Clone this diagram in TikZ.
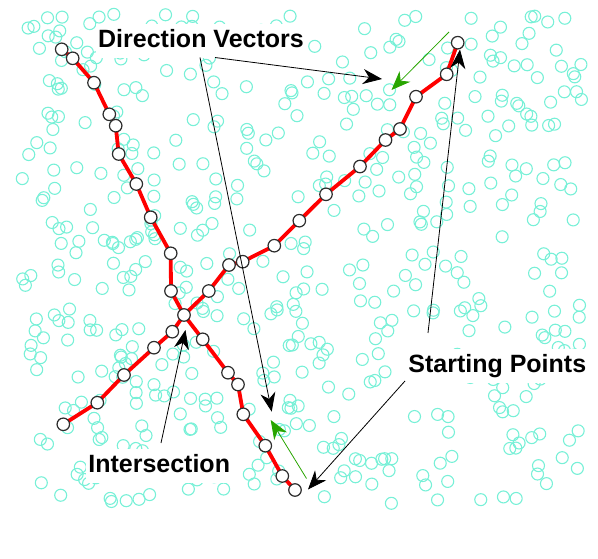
\documentclass[tikz,border=0pt]{standalone}
\usepackage{fontspec}
\setmainfont{Liberation Sans}
\usetikzlibrary{arrows.meta}
\definecolor{cyanc}{RGB}{120,240,215}
\definecolor{arrgreen}{RGB}{40,165,0}
\definecolor{dotedge}{RGB}{45,45,45}
\begin{document}
\begin{tikzpicture}[x=1pt,y=-1pt,
  dot/.style={circle,draw=dotedge,line width=1.2pt,fill=white,minimum size=12.5pt,inner sep=0pt},
  redpath/.style={draw=red,line width=3.8pt,line join=round},
  blackarr/.style={draw=black,line width=0.8pt,-{Stealth[length=19pt,width=15pt,inset=6pt]}},
  greenarr/.style={draw=arrgreen,line width=0.8pt,-{Stealth[length=19pt,width=15pt,inset=6pt]}},
  lbl/.style={fill=white,font=\fontsize{25}{30}\selectfont\bfseries,text height=18pt,text depth=6pt,inner xsep=2pt,inner ysep=5pt,anchor=base},
  bgcirc/.style={draw=cyanc,line width=1.1pt}]
\useasboundingbox (0,0) rectangle (598,559);
% background random circles
\pgfmathsetseed{4242}
\foreach \i in {1,...,540}{
  \pgfmathsetmacro\cx{22+560*rnd}
  \pgfmathsetmacro\cy{14+492*rnd}
  \draw[bgcirc] (\cx,\cy) circle[radius=6pt];
}
% path A coordinates
\coordinate (a1) at (61.7,49.3);
\coordinate (a2) at (72.7,58.3);
\coordinate (a3) at (94,82.7);
\coordinate (a4) at (109.3,114.3);
\coordinate (a5) at (115.7,125.7);
\coordinate (a6) at (118.7,154);
\coordinate (a7) at (136.3,184);
\coordinate (a8) at (150.7,217.3);
\coordinate (a9) at (170.7,253.3);
\coordinate (a10) at (171,291);
\coordinate (x) at (184,315);
\coordinate (a11) at (202.7,339.3);
\coordinate (a12) at (228,372.7);
\coordinate (a13) at (238,384.5);
\coordinate (a14) at (243.3,414.3);
\coordinate (a15) at (265.3,445.7);
\coordinate (a16) at (282.3,476);
\coordinate (a17) at (295,490);
% path B coordinates
\coordinate (b1) at (457.7,42.7);
\coordinate (b2) at (446.7,74.3);
\coordinate (b3) at (416,96.7);
\coordinate (b4) at (400,129);
\coordinate (b5) at (385.5,140);
\coordinate (b6) at (360,166.5);
\coordinate (b7) at (326,194.3);
\coordinate (b8) at (299.3,220.7);
\coordinate (b9) at (274.3,245.7);
\coordinate (b10) at (242.7,261.7);
\coordinate (b11) at (229,265);
\coordinate (b12) at (208.8,291);
\coordinate (b13) at (172.3,331.7);
\coordinate (b14) at (154,347.7);
\coordinate (b15) at (124,375);
\coordinate (b16) at (97.3,402.7);
\coordinate (b17) at (63.3,424.3);
% red paths
\draw[redpath] (a1) -- (a2) -- (a3) -- (a4) -- (a5) -- (a6) -- (a7) -- (a8) -- (a9) -- (a10) -- (x) -- (a11) -- (a12) -- (a13) -- (a14) -- (a15) -- (a16) -- (a17);
\draw[redpath] (b1) -- (b2) -- (b3) -- (b4) -- (b5) -- (b6) -- (b7) -- (b8) -- (b9) -- (b10) -- (b11) -- (b12) -- (x) -- (b13) -- (b14) -- (b15) -- (b16) -- (b17);
% white nodes
\foreach \n in {a1,a2,a3,a4,a5,a6,a7,a8,a9,a10,x,a11,a12,a13,a14,a15,a16,a17,b1,b2,b3,b4,b5,b6,b7,b8,b9,b10,b11,b12,b13,b14,b15,b16,b17}
  \node[dot] (N\n) at (\n) {};
% labels
\node[lbl] (dv) at (201,47.3) {Direction Vectors};
\node[lbl] (sp) at (497.3,372) {Starting Points};
\node[lbl] (is) at (159.2,472.3) {Intersection};
% arrow endpoints
\coordinate (dvs1) at (215,57.5);
\coordinate (dvt1) at (382,79);
\coordinate (dvs2) at (200,57.5);
\coordinate (dvt2) at (271.7,411.7);
\coordinate (gs1) at (449,32);
\coordinate (gt1) at (391.5,90);
\coordinate (gs2) at (306.5,478.5);
\coordinate (gt2) at (270.7,420);
\coordinate (sps1) at (428,333);
\coordinate (spt1) at (460,49.5);
\coordinate (sps2) at (405,381);
\coordinate (spt2) at (308,489.5);
\coordinate (iss) at (161,443);
\coordinate (ist) at (185.5,330);
% arrows
\draw[greenarr] (gs1) -- (gt1);
\draw[greenarr] (gs2) -- (gt2);
\draw[blackarr] (dvs1) -- (dvt1);
\draw[blackarr] (dvs2) -- (dvt2);
\draw[blackarr] (sps1) -- (spt1);
\draw[blackarr] (sps2) -- (spt2);
\draw[blackarr] (iss) -- (ist);
\end{tikzpicture}
\end{document}
